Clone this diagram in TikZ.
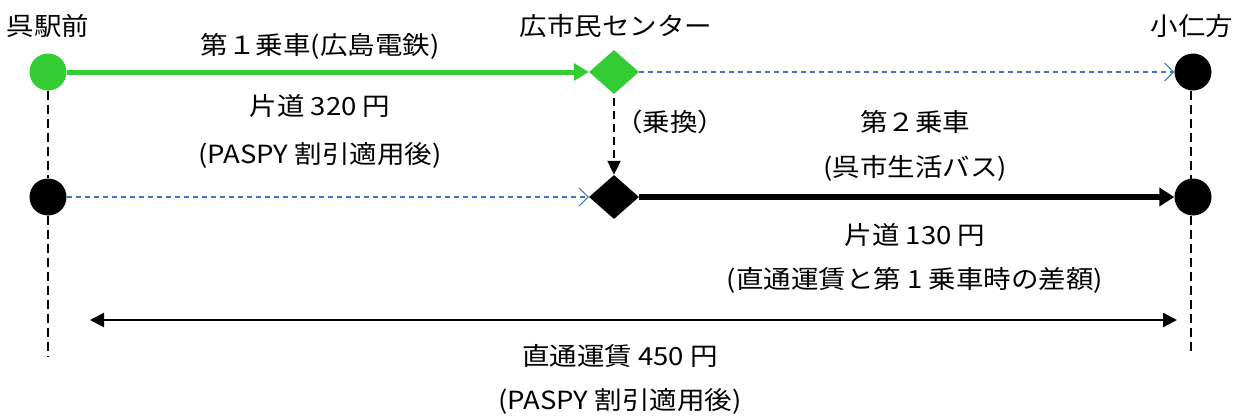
\documentclass[tikz,border=0pt]{standalone}
\usepackage{fontspec}
\setmainfont[FakeStretch=1.1]{Noto Sans CJK JP}
\usetikzlibrary{arrows.meta,shapes.geometric}
\definecolor{grn}{HTML}{33CC33}
\definecolor{blu}{HTML}{4472C4}
\begin{document}
\begin{tikzpicture}[x=1pt,y=-1pt,
  lbl/.style={inner sep=0pt,font=\fontsize{25}{27}\selectfont},
  dot/.style={circle,fill=black,minimum size=37pt,inner sep=0pt},
  dia/.style={diamond,fill=black,minimum width=50pt,minimum height=44pt,inner sep=0pt},
  bluarr/.style={blu,line width=1.2pt,dash pattern=on 5pt off 4pt,-{Straight Barb[length=9pt,width=18pt,line width=1pt]}},
  vdash/.style={black,line width=2pt,dash pattern=on 9pt off 5pt},
]
\useasboundingbox (0,0) rectangle (1244,416);
% stations
\node[lbl] (kure) at (48,26) {呉駅前};
\node[lbl] (center) at (616,26) {広市民センター};
\node[lbl] (konigata) at (1192,26) {小仁方};
\node[dot,fill=grn] (a1) at (48,72) {};
\node[dia,fill=grn] (b1) at (614,72) {};
\node[dot] (c1) at (1193,72) {};
\node[dot] (a2) at (48,197) {};
\node[dia] (b2) at (614,197) {};
\node[dot] (c2) at (1193,197) {};
\coordinate (aend) at (48,356);
\coordinate (cend) at (1191,352);
\coordinate (L) at (90,320);
\coordinate (R) at (1177,320);
% connectors
\draw[grn,line width=5pt,-{Triangle[length=15pt,width=17pt]}] (a1.east) -- (b1.west);
\draw[bluarr] (b1.east) -- (c1.west);
\draw[bluarr] (a2.east) -- (b2.west);
\draw[black,line width=6pt,-{Triangle[length=15pt,width=18pt]}] (b2.east) -- (c2.west);
\draw[black,line width=2pt,dash pattern=on 8pt off 5pt,-{Triangle[length=14pt,width=13pt]}] ([yshift=-4pt]b1.south) -- (b2.north);
\draw[vdash] (a1.south) -- (a2.north);
\draw[vdash] (a2.south) -- (aend);
\draw[vdash] (c1.south -| cend) -- (c2.south -| cend);
\draw[vdash] (c2.south -| cend) -- (cend);
\draw[black,line width=2.5pt,{Triangle[length=14pt,width=14pt]}-{Triangle[length=14pt,width=14pt]}] (L) -- (R);
% labels
\node[lbl] (t1) at (320,46) {第１乗車(広島電鉄)};
\node[lbl] (t2) at (320,106) {片道 320 円};
\node[lbl] (t3) at (320,155) {(PASPY 割引適用後)};
\node[lbl] (t4) at (670,122) {（乗換）};
\node[lbl] (t5) at (915,122) {第２乗車};
\node[lbl] (t6) at (915,168) {(呉市生活バス)};
\node[lbl] (t7) at (915,235) {片道 130 円};
\node[lbl] (t8) at (915,280) {(直通運賃と第 1 乗車時の差額)};
\node[lbl] (t9) at (620,356) {直通運賃 450 円};
\node[lbl] (t10) at (620,401) {(PASPY 割引適用後)};
\end{tikzpicture}
\end{document}
